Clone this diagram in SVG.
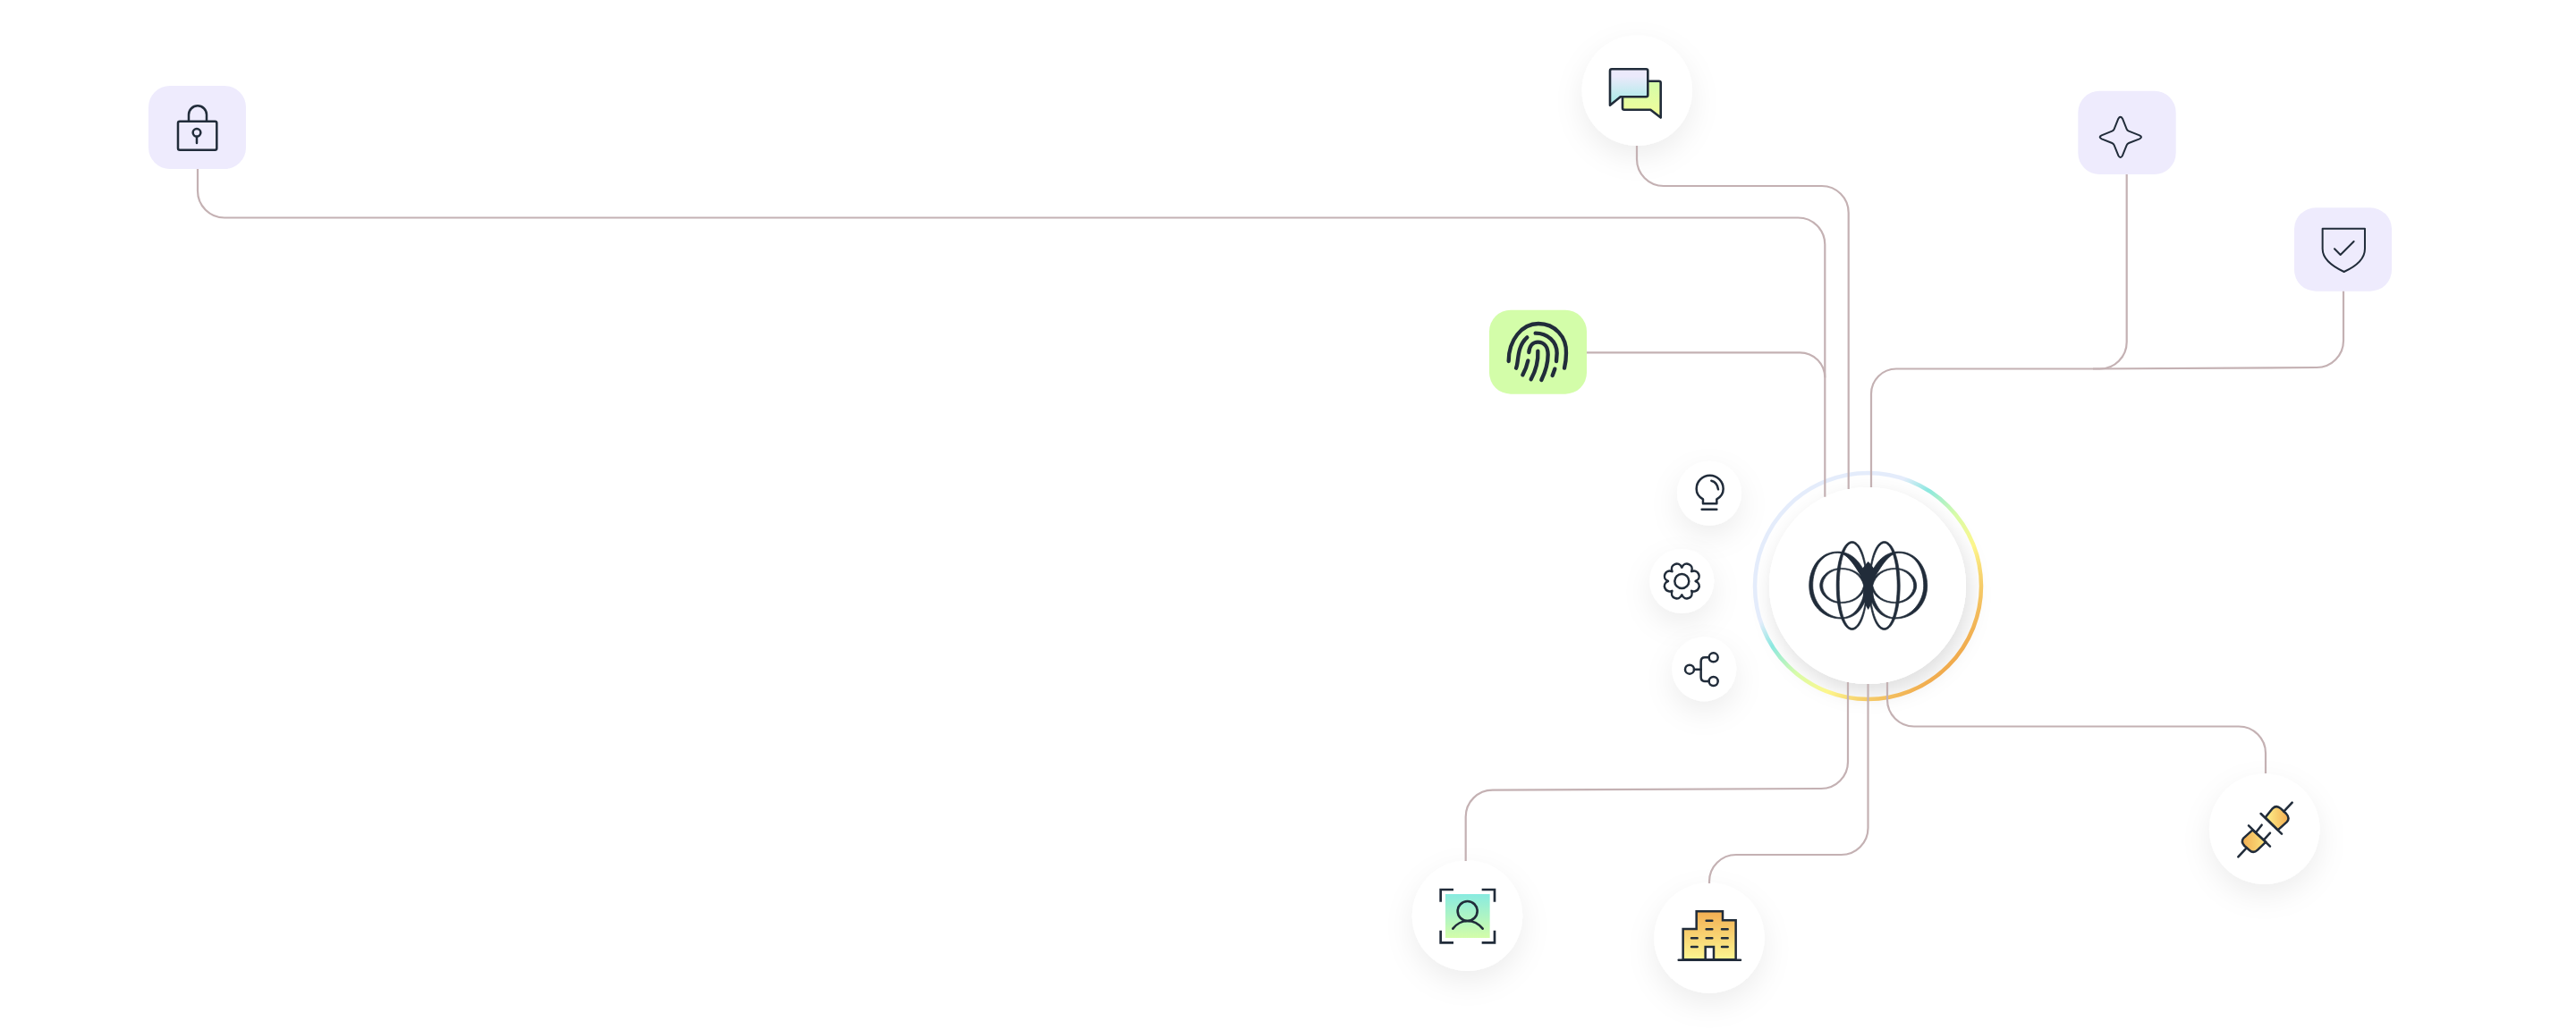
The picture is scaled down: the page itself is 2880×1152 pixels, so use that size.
<svg xmlns="http://www.w3.org/2000/svg" width="2880" height="1152" viewBox="0 0 2880 1152">
<style>
.conn{fill:none;stroke:#c4b1b3;stroke-width:2.2}
.tile{fill:#eeebfd}
.disc{fill:#fff;filter:url(#sh)}
.ic{fill:none;stroke:#212c3a;stroke-linecap:round;stroke-linejoin:round}
.z{stroke-width:7.5}
.thin{stroke-width:6}
.sq{stroke-linecap:butt;stroke-linejoin:miter}
.solid{fill:#212c3a}
</style>
<defs>
<filter id="sh" x="-60%" y="-60%" width="220%" height="220%"><feDropShadow dx="0" dy="12" stdDeviation="16" flood-color="#000" flood-opacity=".07"/></filter>
<filter id="shc" x="-50%" y="-50%" width="200%" height="200%"><feDropShadow dx="4" dy="10" stdDeviation="12" flood-color="#000" flood-opacity=".13"/></filter>
<linearGradient id="ring" gradientUnits="userSpaceOnUse" x1="1997.5" y1="564.5" x2="2179.5" y2="746.5">
<stop offset="0" stop-color="#e4ecfb"/><stop offset=".28" stop-color="#e4ecfb"/><stop offset=".39" stop-color="#8ce8e0"/><stop offset=".55" stop-color="#d8fca8"/><stop offset=".7" stop-color="#fdf68c"/><stop offset=".83" stop-color="#f6cf6c"/><stop offset="1" stop-color="#f0a94c"/>
</linearGradient>
<linearGradient id="g1" x1="0" y1="0" x2="0" y2="1"><stop offset=".2" stop-color="#ebe9fb"/><stop offset="1" stop-color="#a4ece6"/></linearGradient>
<linearGradient id="g2" x1="0" y1="0" x2="0" y2="1"><stop offset="0" stop-color="#d3fda9"/><stop offset="1" stop-color="#f3fc9a"/></linearGradient>
<linearGradient id="g3" x1="0" y1="0" x2="0" y2="1"><stop offset="0" stop-color="#88ebe0"/><stop offset="1" stop-color="#d3fda9"/></linearGradient>
<linearGradient id="g4" x1="0" y1="0" x2="0" y2="1"><stop offset="0" stop-color="#f3ae52"/><stop offset="1" stop-color="#fdf792"/></linearGradient>
<linearGradient id="g5" x1="0" y1="0" x2="1" y2="0"><stop offset="0" stop-color="#fdf08c"/><stop offset="1" stop-color="#f3ae52"/></linearGradient>
<linearGradient id="g6" x1="0" y1="0" x2="1" y2="0"><stop offset="0" stop-color="#f2ae52"/><stop offset="1" stop-color="#fbe47f"/></linearGradient>
<g id="halfLogo" class="solid" fill-rule="evenodd" stroke="#212c3a" stroke-width=".7">
<path d="M-1-8C-8-28-20-38-34-38C-54-38-66-20-66 0C-66 20-52 37-30 37C-16 37-5 28-1 8ZM-3-2C-13-19-22-36.4-34-36.6C-52-36.6-62-20-62 0C-62 18-48 35.6-30 35.8C-17 35.8-7 24-3 2Z"/>
<path d="M-4-4C-8-14-18-19.6-30-19.6C-44-19.6-54-10-54 0C-54 10-44 19.6-30 19.6C-18 19.6-8 14-4 4ZM-5 0C-8-12-18-18.4-30-18.4C-42-18.4-51-9-51 0C-51 9-42 18.4-30 18.4C-18 18.4-8 12-5 0Z"/>
<path d="M-18-49.5C-28-49.5-35.5-28-35.5 0C-35.5 28-28 49.5-18 49.5C-8 49.5-1 28-1 0C-1-28-8-49.5-18-49.5ZM-18-47.6C-26-47.6-32.5-26-32.5 0C-32.5 26-26 47.6-18 47.6C-10 47.6-2 26-2 0C-2-26-10-47.6-18-47.6Z"/>
</g>
</defs>
<rect width="2880" height="1152" fill="#fff"/>

<g id="node-core">
<circle cx="2088" cy="655" r="110" fill="#fff" filter="url(#shc)"/>
<circle cx="2088.5" cy="655.5" r="126.5" fill="none" stroke="url(#ring)" stroke-width="4.5"/>
<circle cx="2088" cy="655" r="110" fill="#fff"/>
<g transform="translate(2088.7 655)">
<use href="#halfLogo"/><use href="#halfLogo" transform="scale(-1 1)"/>
<path class="solid" d="M0-27C-3-24-8-18-9-14C-7-8-5-4-5 0C-5 4-6 10-6 14C-5 18-2 24 0 27C2 24 5 18 6 14C6 10 5 4 5 0C5-4 7-8 9-14C8-18 3-24 0-27Z"/>
</g>
</g>

<g id="node-lock">
<rect class="tile" x="166" y="96" width="109" height="93" rx="24"/>
<g class="ic z" transform="translate(150 80) scale(.3333)">
<rect x="147" y="167" width="130" height="96" rx="6"/>
<path d="M183 165V145a30 30 0 0 1 60 0V165"/>
<circle cx="210" cy="205" r="13"/>
<path d="M210 218V240"/>
</g>
</g>

<g id="node-chat">
<circle class="disc" cx="1830.3" cy="101.3" r="61.7"/>
<g class="ic" stroke-width="2.6">
<path d="M1814 105V120.7q0 2 2 2H1845.3L1856.7 131.5V92.7q0-2-2-2H1838V105Z" fill="url(#g2)"/>
<path d="M1802 77.3H1840.3q2 0 2 2V106.3q0 2-2 2H1811.7L1800 117.7V79.3q0-2 2-2Z" fill="url(#g1)"/>
</g>
</g>

<g id="node-fingerprint">
<rect x="1665" y="346.7" width="109" height="94" rx="24" fill="#d3fda9"/>
<g class="ic" stroke-width="13" transform="translate(1640 330) scale(.3333)">
<path d="M140 222C140 150 185 96 240 96C295 96 335 140 333 195Q333 220 327 245"/>
<path d="M165 245C175 225 165 175 202 142"/>
<path d="M230 128C270 128 302 155 302 195L300 222"/>
<path d="M187 268Q200 245 205 220"/>
<path d="M208 192C210 170 222 158 238 158C260 158 272 175 272 200C272 230 262 260 250 285"/>
<path d="M238 188C240 220 230 255 215 283"/>
<path d="M295 248L287 270"/>
</g>
</g>

<g id="node-star">
<rect class="tile" x="2323.3" y="101.7" width="109.4" height="93.3" rx="24"/>
<g class="ic thin" transform="translate(2300 90) scale(.3333)">
<path d="M205 128Q212 116 219 128L233 163Q235 168 240 170L276 184Q288 190 276 196L240 210Q235 212 233 217L219 252Q212 264 205 252L191 217Q189 212 184 210L149 196Q137 190 149 184L184 170Q189 168 191 163Z"/>
</g>
</g>

<g id="node-shield">
<rect class="tile" x="2565" y="232.3" width="109" height="93.4" rx="24"/>
<g class="ic thin" transform="translate(2300 90) scale(.3333)">
<path d="M890 497H1032V565C1032 600 1000 625 962 642C925 625 890 600 890 565Z"/>
<path d="M930 565L950 585L995 540"/>
</g>
</g>

<g id="node-bulb">
<circle class="disc" cx="1911" cy="551.7" r="36"/>
<g class="ic z" transform="translate(1820 500) scale(.3333)">
<path d="M252 190H298V175C310 168 320 155 320 140A45 45 0 1 0 230 140C230 155 240 168 252 175Z"/>
<path d="M248 209H298"/>
<path d="M280 113Q300 118 303 142"/>
</g>
</g>

<g id="node-gear">
<circle class="disc" cx="1880.3" cy="650" r="36"/>
<g class="ic z" transform="translate(1880.3 650) scale(.3333)">
<path d="M46 0C69.3 9.7 55.9 42.1 32.5 32.5C42.1 55.9 9.7 69.3 0 46C-9.7 69.3-42.1 55.9-32.5 32.5C-55.9 42.1-69.3 9.7-46 0C-69.3-9.7-55.9-42.1-32.5-32.5C-42.1-55.9-9.7-69.3 0-46C9.7-69.3 42.1-55.9 32.5-32.5C55.9-42.1 69.3-9.7 46 0Z"/>
<circle r="24"/>
</g>
</g>

<g id="node-share">
<circle class="disc" cx="1905.3" cy="748.3" r="36"/>
<g class="ic z" transform="translate(1820 500) scale(.3333)">
<circle cx="207" cy="746" r="15"/><circle cx="287" cy="706" r="15"/><circle cx="287" cy="786" r="15"/>
<path d="M222 746H245"/>
<path d="M272 706H258Q245 706 245 720V772Q245 786 258 786H272"/>
</g>
</g>

<g id="node-face">
<circle class="disc" cx="1640.5" cy="1024.3" r="61.7"/>
<g transform="translate(1560 950) scale(.3333)">
<rect x="168" y="150" width="149" height="147" fill="url(#g3)"/>
<g class="ic" stroke-width="8">
<path class="sq" d="M152 176V135H195M290 135H333V176M152 272V313H195M290 313H333V272"/>
<circle cx="242" cy="207" r="33"/>
<path d="M193 266C205 250 225 240 242 240C260 240 280 250 293 266"/>
</g>
</g>
</g>

<g id="node-building">
<circle class="disc" cx="1911" cy="1049" r="61.7"/>
<g class="ic z" transform="translate(1830 980) scale(.3333)">
<path class="sq" d="M155 280V177H200V118H288V148H332V280Z" fill="url(#g4)"/>
<rect class="sq" x="230" y="237" width="28" height="43" fill="#fff"/>
<path d="M140 281H348M233 149H253M233 178H253M285 178H305M183 208H203M233 208H253M285 208H305M183 237H203M285 237H305"/>
</g>
</g>

<g id="node-plug">
<circle class="disc" cx="2531.7" cy="927.3" r="61.7"/>
<g class="ic z" transform="translate(2450 860) scale(.3333)">
<path d="M248 163L272 133Q285 120 300 133L318 150Q332 165 320 178L290 205Z" fill="url(#g5)"/>
<path d="M233 150L303 218M310 143L338 113"/>
<path d="M205 205L175 232Q165 245 178 258L195 273Q208 285 222 272L250 245Z" fill="url(#g6)"/>
<path d="M192 190L264 260M217 212L236 188M243 238L264 215M157 295L185 265"/>
</g>
</g>

<g id="connectors">
<path class="conn" d="M221 189V213.5A30 30 0 0 0 251 243.5H2010.3A30 30 0 0 1 2040.3 273.5V555.7"/>
<path class="conn" d="M1830 163V178A30 30 0 0 0 1860 208H2036.7A30 30 0 0 1 2066.7 238V547"/>
<path class="conn" d="M1774 394.3H2012.3A28 28 0 0 1 2040.3 422.3"/>
<path class="conn" d="M2377.7 195V382.5A30 30 0 0 1 2347.7 412.5H2120A28 28 0 0 0 2092 440.5V545"/>
<path class="conn" d="M2620 325.7V381A30 30 0 0 1 2590 411L2340 412.5"/>
<path class="conn" d="M2066 763V852A30 30 0 0 1 2036 882L1668.7 883.6A30 30 0 0 0 1638.7 913.6V963"/>
<path class="conn" d="M2088.5 765V926A30 30 0 0 1 2058.5 956H1941A30 30 0 0 0 1911 986V988"/>
<path class="conn" d="M2110 763V782.5A30 30 0 0 0 2140 812.5H2503A30 30 0 0 1 2533 842.5V865"/>
</g>
</svg>
